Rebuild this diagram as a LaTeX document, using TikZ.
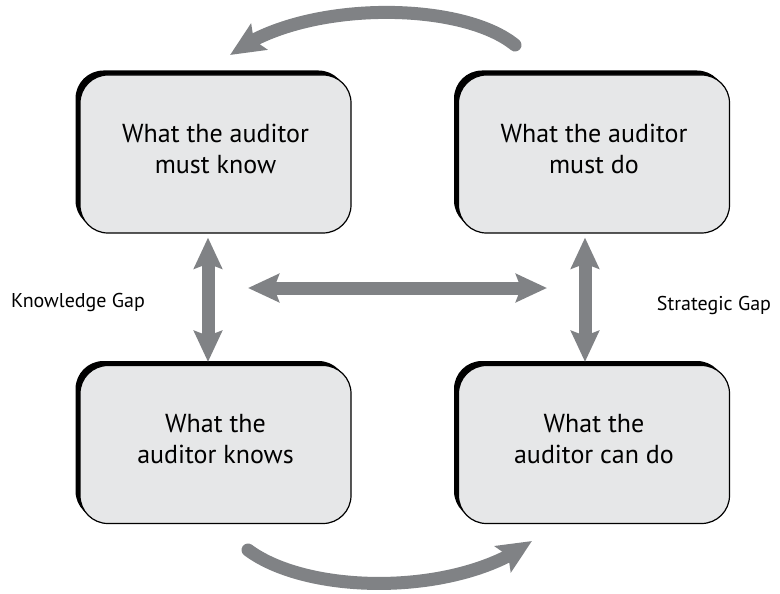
\documentclass[tikz,border=0pt]{standalone}
\usepackage{fontspec}
\setmainfont{PT Sans}
\usetikzlibrary{arrows.meta,bending,shadows}
\definecolor{boxgray}{RGB}{230,231,232}
\definecolor{arrgray}{RGB}{128,130,133}
\tikzset{
  box/.style={rectangle, rounded corners=28pt, draw=black, line width=1.2pt,
    fill=boxgray, minimum width=271pt, minimum height=158pt, align=center,
    font=\fontsize{26}{31}\selectfont, text depth=11pt,
    drop shadow={shadow xshift=-4.5pt, shadow yshift=4.5pt, fill=black, opacity=1}},
  gaplabel/.style={font=\fontsize{20}{22}\selectfont, inner sep=0pt},
  bigarrow/.style={draw=arrgray, line width=13pt,
    {Stealth[length=31pt,width=28pt,inset=5pt]}-{Stealth[length=31pt,width=28pt,inset=5pt]}},
  curvearrow/.style={draw=arrgray, line width=13pt, line cap=round,
    -{Stealth[length=34pt,width=30pt,inset=6pt]}}
}
\begin{document}
\begin{tikzpicture}[x=1pt,y=-1pt]
\useasboundingbox (0,0) rectangle (780,594);
\node[box] (tl) at (215.5,154) {What the auditor\\must know};
\node[box] (tr) at (594,154) {What the auditor\\must do};
\node[box] (bl) at (215.5,444.5) {What the\\auditor knows};
\node[box] (br) at (594,444.5) {What the\\auditor can do};
\node[gaplabel] (kg) at (78,302) {Knowledge Gap};
\node[gaplabel] (sg) at (714,305) {Strategic Gap};
\coordinate (hl) at (248,288);
\coordinate (hr) at (547,288);
\coordinate (ts) at (515,45);
\coordinate (te) at (230,55);
\coordinate (bs) at (248,550);
\coordinate (be) at (532,541);
\draw[bigarrow, shorten <=4pt, shorten >=3pt] ([xshift=-7.5pt]tl.south) -- ([xshift=-7.5pt]bl.north);
\draw[bigarrow, shorten <=4pt, shorten >=3pt] ([xshift=-9pt]tr.south) -- ([xshift=-9pt]br.north);
\draw[bigarrow] (hl) -- (hr);
\draw[curvearrow] (ts) .. controls (460,0) and (300,0) .. (te);
\draw[curvearrow] (bs) .. controls (310,596) and (460,596) .. (be);
\end{tikzpicture}
\end{document}
